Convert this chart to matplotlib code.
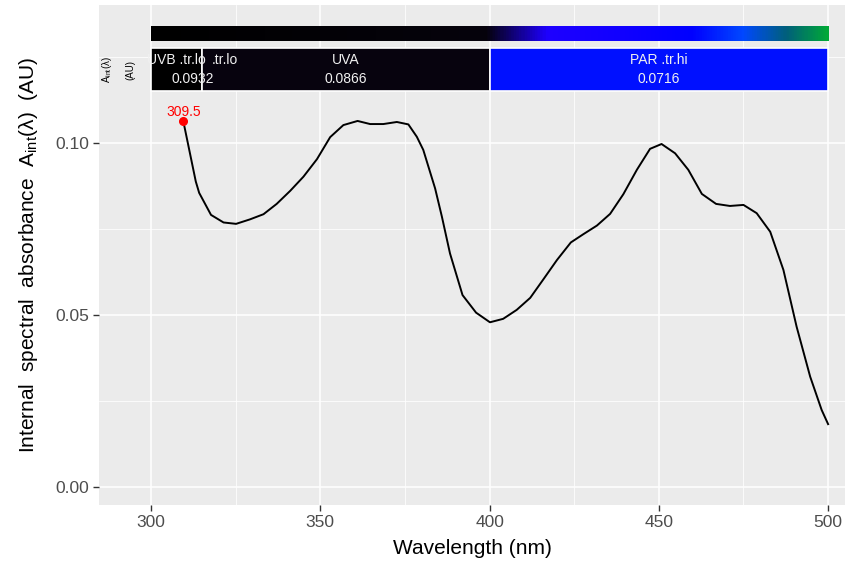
import numpy as np
import matplotlib
matplotlib.use("Agg")
import matplotlib.pyplot as plt
from matplotlib.colors import LinearSegmentedColormap
from matplotlib.patches import Rectangle

plt.rcParams['font.family'] = ['Liberation Sans', 'DejaVu Sans']
plt.rcParams['mathtext.fontset'] = 'custom'
plt.rcParams['mathtext.rm'] = 'Liberation Sans'
plt.rcParams['mathtext.it'] = 'Liberation Sans:italic'

# ---- data ----
wavelength = [309.5, 313.2, 314.2, 317.7, 321.4, 325.1, 329.2, 333.2, 337.1, 341.1,
              345.0, 349.0, 352.9, 356.8, 361.0, 364.7, 368.6, 372.6, 376.0, 378.5,
              380.4, 383.9, 385.9, 388.3, 392.0, 396.0, 400.1, 404.0, 408.0, 412.0,
              415.9, 419.9, 424.0, 427.7, 431.7, 435.6, 439.5, 443.5, 447.4, 450.8,
              454.8, 458.7, 462.7, 466.9, 471.0, 475.0, 478.9, 482.9, 486.8, 490.7,
              494.7, 498.1, 500.0]
absorbance = [0.1064, 0.0888, 0.0855, 0.0791, 0.0769, 0.0765, 0.0778, 0.0793, 0.0823, 0.0861,
              0.0902, 0.0953, 0.1017, 0.1052, 0.1064, 0.1055, 0.1055, 0.1061, 0.1054, 0.1018,
              0.0980, 0.0868, 0.0786, 0.0679, 0.0558, 0.0507, 0.0479, 0.0489, 0.0515, 0.0550,
              0.0604, 0.0660, 0.0711, 0.0735, 0.0760, 0.0794, 0.0851, 0.0922, 0.0983, 0.0997,
              0.0970, 0.0922, 0.0852, 0.0823, 0.0817, 0.0820, 0.0796, 0.0742, 0.0631, 0.0466,
              0.0321, 0.0224, 0.0183]
peak_wl = 309.5
peak_label = "309.5"

band_names = ["UVB", "UVA", "PAR"]
band_lo = [300, 315, 400]
band_hi = [315, 400, 500]
band_colors = ["#000000", "#07030E", "#0010FF"]
band_labels = [("UVB .tr.lo", 307.5), (".tr.lo", 321.9), ("UVA", 357.4), ("PAR .tr.hi", 450.0)]
band_values = [("0.0932", 312.3), ("0.0866", 357.4), ("0.0716", 450.0)]

xticks = [300, 350, 400, 450, 500]
yticks = [0.00, 0.05, 0.10]
ytick_labels = ["0.00", "0.05", "0.10"]

# spectrum colour stops for the colour bar
cb_nm = [300, 399, 417, 440, 460, 475, 488, 500]
cb_col = ["#000000", "#06030C", "#1E00FF", "#1000FF", "#0000FF", "#0048FF", "#00607A", "#00A838"]

# ---- figure ----
fig = plt.figure(figsize=(8.54, 5.72), dpi=100)
ax = fig.add_axes([0.1159, 0.1171, 0.9895 - 0.1159, 0.9913 - 0.1171])
ax.set_facecolor("#EBEBEB")
ax.set_xlim(284.6, 505.0)
ax.set_ylim(-0.0052, 0.1401)

# grid
for x in [300, 350, 400, 450, 500]:
    ax.axvline(x, color="white", lw=1.1, zorder=0)
for x in [325, 375, 425, 475]:
    ax.axvline(x, color="white", lw=0.55, zorder=0)
for y in [0.0, 0.05, 0.10]:
    ax.axhline(y, color="white", lw=1.1, zorder=0)
for y in [0.025, 0.075, 0.125]:
    ax.axhline(y, color="white", lw=0.55, zorder=0)

for s in ax.spines.values():
    s.set_visible(False)

# colour bar
span = cb_nm[-1] - cb_nm[0]
cmap = LinearSegmentedColormap.from_list(
    "spec", [((n - cb_nm[0]) / span, c) for n, c in zip(cb_nm, cb_col)])
grad = np.linspace(0, 1, 800).reshape(1, -1)
ax.imshow(grad, cmap=cmap, aspect="auto", extent=(300, 500, 0.1297, 0.1340),
          interpolation="bilinear", zorder=2)

# waveband boxes
for lo, hi, c in zip(band_lo, band_hi, band_colors):
    ax.add_patch(Rectangle((lo, 0.1151), hi - lo, 0.1276 - 0.1151,
                           facecolor=c, edgecolor="white", lw=1.2, zorder=3))
for txt, x in band_labels:
    ax.text(x, 0.1241, txt, color="#F0F0F0", ha="center", va="center",
            fontsize=10, zorder=4)
for txt, x in band_values:
    ax.text(x, 0.1187, txt, color="#F0F0F0", ha="center", va="center",
            fontsize=10, zorder=4)

ax.text(287.0, 0.1213, r"$\mathregular{A_{int}(\lambda)}$", rotation=90,
        ha="center", va="center", fontsize=7, color="black")
ax.text(293.8, 0.1213, "(AU)", rotation=90, ha="center", va="center",
        fontsize=7, color="black")

# spectrum
ax.plot(wavelength, absorbance, color="black", lw=1.4, zorder=5)
pi = wavelength.index(peak_wl)
ax.plot([wavelength[pi]], [absorbance[pi]], "o", color="red", ms=5.5, zorder=6)
ax.text(wavelength[pi], absorbance[pi] + 0.0015, peak_label, color="red",
        ha="center", va="baseline", fontsize=10, zorder=6)

# axes
ax.set_xticks(xticks)
ax.set_yticks(yticks)
ax.set_yticklabels(ytick_labels)
ax.tick_params(axis="both", colors="#333333", labelcolor="#4D4D4D",
               labelsize=12.5, length=4, width=1.0, pad=3)
ax.set_xlabel("Wavelength (nm)", fontsize=15, labelpad=7)
ax.set_ylabel(r"Internal  spectral  absorbance  $\mathregular{A_{int}(\lambda)}$  (AU)",
              fontsize=15, labelpad=11)

fig.savefig("out.png", dpi=100)
